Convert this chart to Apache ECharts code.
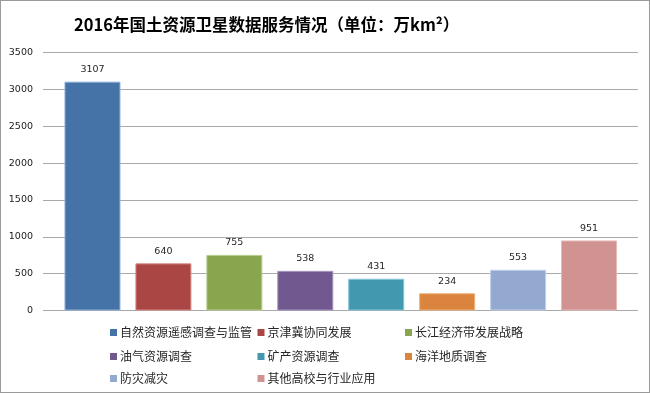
<!DOCTYPE html>
<html><head><meta charset="utf-8">
<script src="https://cdn.jsdelivr.net/npm/echarts@6/dist/echarts.min.js"></script>
<style>html,body{margin:0;padding:0;background:#fff}#c{width:650px;height:393px;box-sizing:border-box;border:1px solid #9a9a9a}</style>
</head><body><div id="c"></div>
<script>
const categories = ['自然资源遥感调查与监管','京津冀协同发展','长江经济带发展战略','油气资源调查','矿产资源调查','海洋地质调查','防灾减灾','其他高校与行业应用'];
const values = [3107, 640, 755, 538, 431, 234, 553, 951];
const yTicks = [0, 500, 1000, 1500, 2000, 2500, 3000, 3500];
const colors = ['#4572A7','#AA4643','#89A54E','#71588F','#4198AF','#DB843D','#93A9CF','#D19392'];
const borders = ['#8fb0d8','#d88a88','#b8d08a','#a592c0','#86c6d8','#f0b27a','#c1d0ea','#e8b8b7'];

const chart = echarts.init(document.getElementById('c'), null, {renderer:'canvas'});
const series = categories.map((name, i) => ({
  name, type:'bar', stack:'all', xAxisIndex:0, yAxisIndex:0,
  barWidth:56,
  data: categories.map((_, j) => j === i ? values[i] : null),
  itemStyle:{color:colors[i], borderColor:borders[i], borderWidth:1},
  label:{show:true, position:'top', distance:7, color:'#262626', fontFamily:'DejaVu Sans', fontSize:9.5}
}));
const legPos = [[109,331.5],[256.5,331.5],[404,331.5],[109,355.5],[256.5,355.5],[404,355.5],[109,377.5],[256.5,377.5]];
const legends = categories.map((name, i) => ({
  data:[name], left:legPos[i][0], top:legPos[i][1]-7, orient:'horizontal',
  icon:'rect', itemWidth:7, itemHeight:7, padding:0,
  selectedMode:false,
  itemStyle:{borderWidth:0},
  textStyle:{fontFamily:'Noto Sans CJK SC', fontSize:12, color:'#262626', lineHeight:14, padding:[0,0,0,-2]}
}));
chart.setOption({
  animation:false,
  title:{text:'2016年国土资源卫星数据服务情况（单位：万km²）', left:68, top:10,
    textStyle:{fontFamily:'Noto Sans CJK SC', fontWeight:'bold', fontSize:16.5, color:'#000'}},
  legend: legends,
  grid:[
    {left:56, top:51.7, width:567.5, height:257.8},
    {left:42, top:51.7, width:595, height:257.8}
  ],
  xAxis:[
    {type:'category', gridIndex:0, data:categories, show:false},
    {type:'category', gridIndex:1, data:categories, show:false}
  ],
  yAxis:[
    {type:'value', gridIndex:0, min:yTicks[0], max:yTicks[yTicks.length-1], interval:500, show:false},
    {type:'value', gridIndex:1, min:yTicks[0], max:yTicks[yTicks.length-1], interval:500,
      axisLine:{show:false}, axisTick:{show:false},
      axisLabel:{margin:10, fontFamily:'DejaVu Sans', fontSize:9.5, color:'#1a1a1a', formatter:v => String(v)},
      splitLine:{lineStyle:{color:'#a9a9a9', width:1.2}}}
  ],
  series
});
</script></body></html>
